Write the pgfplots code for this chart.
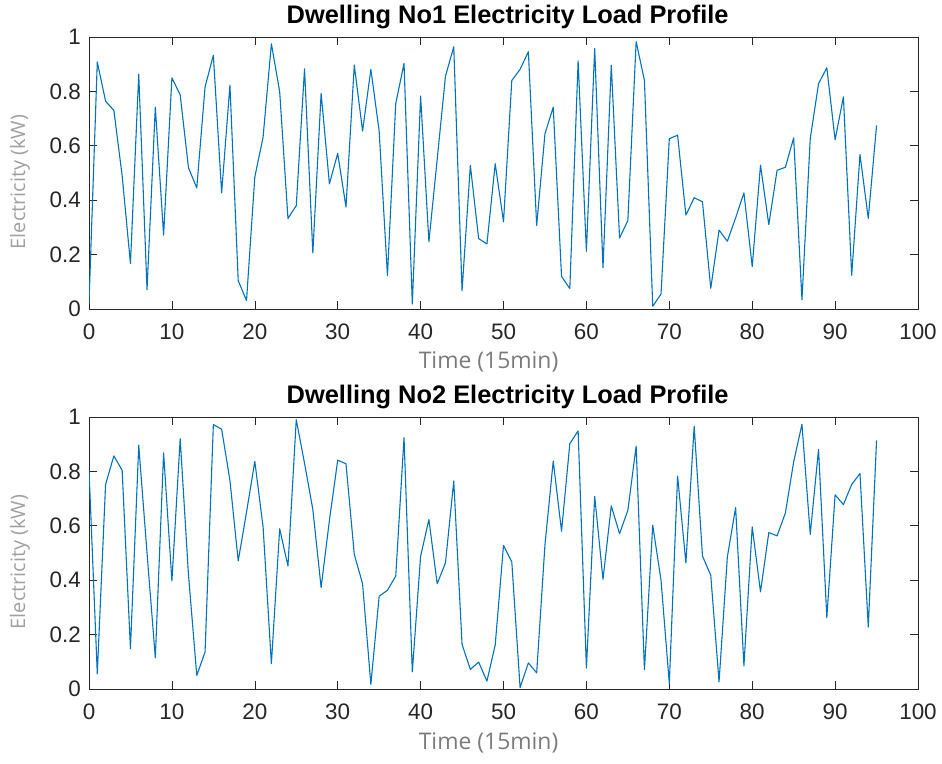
\documentclass[border=0pt]{standalone}
\usepackage{pgfplots}
\pgfplotsset{compat=1.18}
\usepackage{fontspec}
\setmainfont{Liberation Sans}
\newfontfamily\labfont{Open Sans}
\definecolor{mline}{HTML}{0072BD}
\definecolor{maxis}{HTML}{262626}
\definecolor{mlab}{HTML}{7A7A7A}
\definecolor{mylab}{HTML}{A0A0A0}
\begin{document}
\begin{tikzpicture}[x=1bp,y=1bp]
\useasboundingbox (0,0) rectangle (942,764);
\pgfplotsset{
  mstyle/.style={
    scale only axis, width=829bp, height=272bp,
    xmin=0, xmax=100, ymin=0, ymax=1,
    xtick={0,10,...,100}, ytick={0,0.2,0.4,0.6,0.8,1},
    tick align=inside, tick pos=both,
    major tick length=8bp,
    axis line style={maxis, line width=0.6pt},
    every tick/.style={maxis, line width=0.6pt},
    tick label style={font=\fontsize{22.5}{26}\selectfont, text=maxis, inner sep=0pt},
    /pgf/number format/assume math mode=true,
    xticklabel style={anchor=base, yshift=-31bp},
    yticklabel style={anchor=east, xshift=-8bp},
    xlabel style={at={(axis description cs:0.482,-0.2206)}, anchor=base, font=\labfont\fontsize{23}{26}\selectfont, text=mlab},
    ylabel style={at={(axis description cs:-0.0832,0.467)}, anchor=center, rotate=0, font=\labfont\fontsize{20}{22}\selectfont, text=mylab},
    title style={at={(axis description cs:0.505,1.028)}, anchor=base, font=\bfseries\fontsize{25.5}{28}\selectfont, inner sep=0pt},
    xlabel={Time (15min)}, ylabel={Electricity (kW)},
  }
}
\begin{axis}[mstyle, at={(89bp,455bp)}, anchor=south west, title={Dwelling No1 Electricity Load Profile}]
\addplot[mline, line width=1.1pt, line join=round] coordinates {
(0,0.02)(1,0.908)(2,0.764)(3,0.730)(4,0.49)(5,0.167)(6,0.863)(7,0.071)(8,0.742)(9,0.271)
(10,0.850)(11,0.787)(12,0.519)(13,0.445)(14,0.816)(15,0.933)(16,0.427)(17,0.823)(18,0.104)(19,0.031)
(20,0.485)(21,0.632)(22,0.975)(23,0.799)(24,0.333)(25,0.380)(26,0.883)(27,0.206)(28,0.793)(29,0.460)
(30,0.572)(31,0.375)(32,0.897)(33,0.654)(34,0.881)(35,0.654)(36,0.123)(37,0.755)(38,0.903)(39,0.018)
(40,0.783)(41,0.247)(42,0.55)(43,0.856)(44,0.964)(45,0.067)(46,0.528)(47,0.259)(48,0.239)(49,0.534)
(50,0.320)(51,0.840)(52,0.881)(53,0.946)(54,0.307)(55,0.644)(56,0.742)(57,0.120)(58,0.075)(59,0.912)
(60,0.212)(61,0.958)(62,0.151)(63,0.896)(64,0.261)(65,0.325)(66,0.983)(67,0.840)(68,0.010)(69,0.055)
(70,0.626)(71,0.639)(72,0.345)(73,0.409)(74,0.394)(75,0.076)(76,0.290)(77,0.249)(78,0.335)(79,0.427)
(80,0.156)(81,0.529)(82,0.310)(83,0.510)(84,0.521)(85,0.629)(86,0.034)(87,0.626)(88,0.828)(89,0.887)
(90,0.622)(91,0.780)(92,0.124)(93,0.568)(94,0.333)(95,0.675)
};
\end{axis}
\begin{axis}[mstyle, at={(89bp,75bp)}, anchor=south west, title={Dwelling No2 Electricity Load Profile}]
\addplot[mline, line width=1.1pt, line join=round] coordinates {
(0,0.806)(1,0.056)(2,0.752)(3,0.857)(4,0.804)(5,0.148)(6,0.896)(7,0.50)(8,0.115)(9,0.868)
(10,0.397)(11,0.920)(12,0.42)(13,0.050)(14,0.136)(15,0.972)(16,0.955)(17,0.767)(18,0.471)(19,0.65)
(20,0.837)(21,0.596)(22,0.093)(23,0.589)(24,0.452)(25,0.990)(26,0.83)(27,0.66)(28,0.373)(29,0.62)
(30,0.841)(31,0.828)(32,0.495)(33,0.387)(34,0.017)(35,0.341)(36,0.363)(37,0.415)(38,0.924)(39,0.063)
(40,0.488)(41,0.623)(42,0.387)(43,0.464)(44,0.765)(45,0.164)(46,0.072)(47,0.099)(48,0.029)(49,0.162)
(50,0.528)(51,0.467)(52,0.005)(53,0.096)(54,0.059)(55,0.53)(56,0.838)(57,0.580)(58,0.902)(59,0.949)
(60,0.077)(61,0.708)(62,0.403)(63,0.673)(64,0.571)(65,0.657)(66,0.893)(67,0.071)(68,0.602)(69,0.40)
(70,0.02)(71,0.783)(72,0.463)(73,0.966)(74,0.489)(75,0.418)(76,0.026)(77,0.485)(78,0.667)(79,0.085)
(80,0.596)(81,0.357)(82,0.575)(83,0.563)(84,0.647)(85,0.835)(86,0.973)(87,0.569)(88,0.881)(89,0.262)
(90,0.714)(91,0.678)(92,0.752)(93,0.792)(94,0.228)(95,0.914)
};
\end{axis}
\end{tikzpicture}
\end{document}
